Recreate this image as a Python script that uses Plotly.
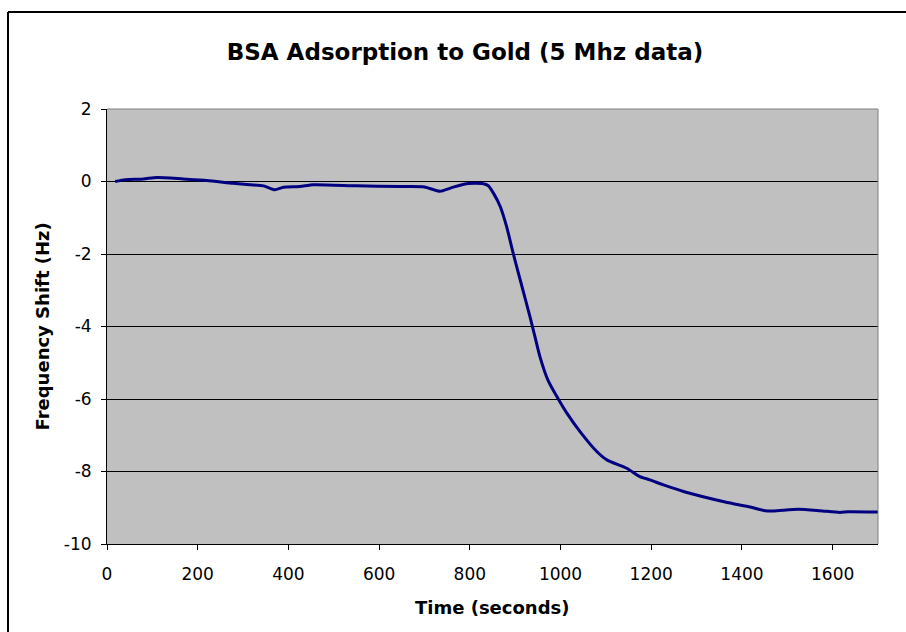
import plotly.graph_objects as go

time_s = [18, 40, 80, 110, 168, 220, 278, 315, 345, 370, 389, 425, 455, 550, 646, 700,
          734, 760, 793, 830, 840, 852, 867, 881, 896, 911, 933, 944, 955, 973, 995, 1014,
          1043, 1080, 1102, 1146, 1175, 1197, 1227, 1271, 1363, 1418, 1451, 1469, 1524,
          1572, 1616, 1634, 1700]
shift_hz = [0, 0.05, 0.07, 0.11, 0.07, 0.03, -0.05, -0.09, -0.12, -0.23, -0.16, -0.14,
            -0.09, -0.12, -0.14, -0.15, -0.27, -0.17, -0.06, -0.06, -0.11, -0.32, -0.69,
            -1.24, -2.0, -2.71, -3.75, -4.3, -4.85, -5.5, -6.0, -6.39, -6.9, -7.45, -7.68,
            -7.91, -8.14, -8.23, -8.37, -8.55, -8.84, -8.98, -9.08, -9.09, -9.04, -9.08,
            -9.13, -9.11, -9.12]

x_ticks = [0, 200, 400, 600, 800, 1000, 1200, 1400, 1600]
y_ticks = [2, 0, -2, -4, -6, -8, -10]

title_text = "BSA Adsorption to Gold (5 Mhz data)"
x_title = "Time (seconds)"
y_title = "Frequency Shift (Hz)"

W, H = 906, 632
L, R, T, B = 107, 878, 109, 544
pw, ph = R - L, B - T

def px(xp):
    return (xp - L) / pw

def py(yp):
    return (B - yp) / ph

fig = go.Figure()
fig.add_trace(go.Scatter(
    x=time_s, y=shift_hz, mode="lines",
    line=dict(color="#000080", width=3, shape="spline", smoothing=0.6),
    showlegend=False, hoverinfo="skip",
))

font_family = "DejaVu Sans, Verdana, sans-serif"

fig.update_layout(
    width=W, height=H,
    margin=dict(l=L, r=W - R, t=T, b=H - B, pad=0),
    paper_bgcolor="white",
    plot_bgcolor="#C0C0C0",
    font=dict(family=font_family, color="black", size=17),
    title=dict(text="<b>" + title_text + "</b>", x=465 / W, xanchor="center",
               xref="container", y=1 - 52 / H, yanchor="middle",
               yref="container", font=dict(size=23, family=font_family, color="black")),
    xaxis=dict(range=[0, 1700], tickvals=x_ticks, ticktext=[str(v) for v in x_ticks],
               showgrid=False, zeroline=False, showline=True, linecolor="black",
               linewidth=1, ticks="outside", ticklen=5, tickcolor="black",
               tickfont=dict(size=17), ticklabelstandoff=10, fixedrange=True),
    yaxis=dict(range=[-10, 2], tickvals=y_ticks, ticktext=[str(v) for v in y_ticks],
               showgrid=True, gridcolor="black", gridwidth=1, zeroline=False,
               showline=True, linecolor="black", linewidth=1, ticks="outside",
               ticklen=5, tickcolor="black", tickfont=dict(size=17),
               ticklabelstandoff=6, fixedrange=True),
    showlegend=False,
)

# plot area border (grey) on top and right
fig.add_shape(type="line", xref="paper", yref="paper", x0=0, x1=1, y0=1, y1=1,
              line=dict(color="#808080", width=1))
fig.add_shape(type="line", xref="paper", yref="paper", x0=1, x1=1, y0=0, y1=1,
              line=dict(color="#808080", width=1))

# chart area border (left and top visible, clipped elsewhere)
fig.add_shape(type="line", xref="paper", yref="paper", x0=px(8), x1=px(W + 10),
              y0=py(12), y1=py(12), line=dict(color="black", width=2), layer="above")
fig.add_shape(type="line", xref="paper", yref="paper", x0=px(8), x1=px(8),
              y0=py(12), y1=py(H + 10), line=dict(color="black", width=2), layer="above")

fig.add_annotation(text="<b>" + x_title + "</b>", xref="paper", yref="paper",
                   x=0.5, y=py(607), xanchor="center", yanchor="middle",
                   showarrow=False, font=dict(size=18, family=font_family, color="black"))
fig.add_annotation(text="<b>" + y_title + "</b>", xref="paper", yref="paper",
                   x=px(42), y=0.5, xanchor="center", yanchor="middle", textangle=-90,
                   showarrow=False, font=dict(size=18, family=font_family, color="black"))

fig.write_html("out.html", config={"displayModeBar": False})
